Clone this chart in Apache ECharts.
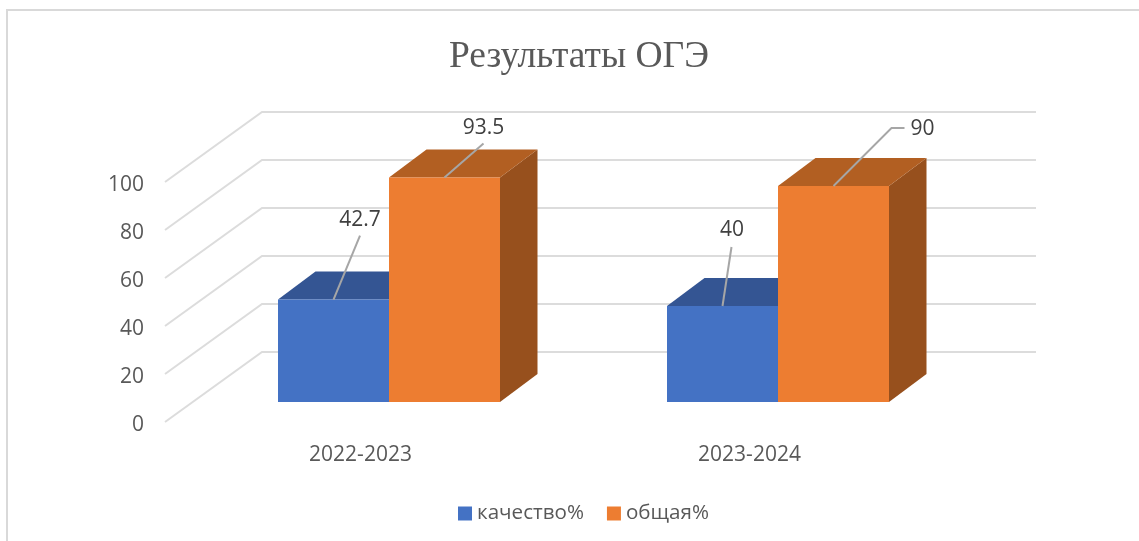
<!DOCTYPE html>
<html>
<head>
<meta charset="utf-8">
<style>
  html, body { margin: 0; padding: 0; background: #fff; }
  #main { width: 1139px; height: 541px; }
</style>
<script src="https://cdn.jsdelivr.net/npm/echarts@6/dist/echarts.min.js"></script>
</head>
<body>
<div id="main"></div>
<script>
var titleText = 'Результаты ОГЭ';
var categories = ['2022-2023', '2023-2024'];
var seriesNames = ['качество%', 'общая%'];
var quality = [42.7, 40];
var total = [93.5, 90];
var yTicks = [0, 20, 40, 60, 80, 100];

// 3d look, px
var wallDepth = [96, -70];
var barDepth = [37.5, -28];
var barLift = [28.5, -20];
var barWidth = 111;
var wallEndTrim = 4;

// where the data labels sit, relative to the middle of the bar's front top edge
var labelLayouts = {
  quality: [
    { text: [26.5, -80], line: [[0, 0], [26.5, -64]] },
    { text: [9.5, -76], line: [[0, 0], [9, -59]] }
  ],
  total: [
    { text: [39, -50], line: [[0, 0], [39, -34]] },
    { text: [89, -57], line: [[0, 0], [58, -58], [71, -58]] }
  ]
};

var chart = echarts.init(document.getElementById('main'));

function wallLine(params, api) {
  var cs = params.coordSys;
  var y = api.coord([0, api.value(1)])[1];
  var backX = cs.x + wallDepth[0];
  var backY = y + wallDepth[1];
  return {
    type: 'polyline',
    silent: true,
    shape: { points: [[cs.x - 1, y], [backX, backY], [cs.x + cs.width + wallDepth[0] - wallEndTrim, backY]] },
    style: { stroke: '#dcdcdc', lineWidth: 2, fill: null }
  };
}

function box(colors, side, layouts) {
  return function (params, api) {
    var top = api.coord([api.value(0), api.value(1)]);
    var base = api.coord([api.value(0), 0]);
    var xc = top[0] + barLift[0] + side * barWidth / 2;
    var x0 = xc - barWidth / 2;
    var x1 = xc + barWidth / 2;
    var yt = top[1] + barLift[1];
    var yb = base[1] + barLift[1];
    var dx = barDepth[0];
    var dy = barDepth[1];
    var lay = layouts[params.dataIndex];
    var linePts = lay.line.map(function (p) { return [xc + p[0], yt + p[1]]; });
    return {
      type: 'group',
      silent: true,
      children: [
        { type: 'polygon', shape: { points: [[x1, yt], [x1 + dx, yt + dy], [x1 + dx, yb + dy], [x1, yb]] }, style: { fill: colors.side } },
        { type: 'polygon', shape: { points: [[x0, yt], [x0 + dx, yt + dy], [x1 + dx, yt + dy], [x1, yt]] }, style: { fill: colors.top } },
        { type: 'rect', shape: { x: x0, y: yt, width: barWidth, height: yb - yt }, style: { fill: colors.front } },
        { type: 'polyline', z2: 20, shape: { points: linePts }, style: { stroke: '#a6a6a6', lineWidth: 2, fill: null } },
        { type: 'text', z2: 21, style: {
          text: String(api.value(1)),
          x: xc + lay.text[0], y: yt + lay.text[1],
          align: 'center', verticalAlign: 'middle',
          font: '21px "Open Sans"', fill: '#404040'
        } }
      ]
    };
  };
}

function toPoints(values) {
  return values.map(function (v, i) { return [i, v]; });
}

chart.setOption({
  animation: false,
  backgroundColor: '#fff',
  title: {
    text: titleText,
    left: 574, top: 33,
    textAlign: 'center',
    textStyle: { fontFamily: 'Liberation Serif', fontSize: 37.5, fontWeight: 'normal', color: '#595959' }
  },
  legend: {
    data: seriesNames,
    left: 453, top: 498,
    icon: 'rect',
    itemWidth: 14, itemHeight: 14, itemGap: 23,
    textStyle: { fontFamily: 'Open Sans', fontSize: 20.6, color: '#595959' },
    selectedMode: false
  },
  grid: { left: 166, top: 182, width: 778, height: 240 },
  xAxis: {
    type: 'category',
    data: categories,
    axisLine: { show: false },
    axisTick: { show: false },
    axisLabel: { margin: 23, fontFamily: 'Open Sans', fontSize: 21, color: '#595959' }
  },
  yAxis: {
    type: 'value',
    min: 0, max: 100, interval: 20,
    axisLine: { show: false },
    axisTick: { show: false },
    splitLine: { show: false },
    axisLabel: { margin: 22, lineHeight: 6, verticalAlign: 'top', fontFamily: 'Open Sans', fontSize: 21, color: '#595959' }
  },
  graphic: [
    { type: 'polyline', silent: true, shape: { points: [[7, 541], [7, 10], [1139, 10]] }, style: { stroke: '#d9d9d9', lineWidth: 2, fill: null } }
  ],
  series: [
    { type: 'custom', name: 'wall', data: yTicks.map(function (v) { return [0, v]; }), renderItem: wallLine, z: 1 },
    { type: 'custom', name: seriesNames[0], data: toPoints(quality), itemStyle: { color: '#4472c4' }, z: 2,
      renderItem: box({ front: '#4472c4', top: '#345593', side: '#2f5597' }, -1, labelLayouts.quality) },
    { type: 'custom', name: seriesNames[1], data: toPoints(total), itemStyle: { color: '#ed7d31' }, z: 3,
      renderItem: box({ front: '#ed7d31', top: '#b25f22', side: '#97501d' }, 1, labelLayouts.total) }
  ]
});
</script>
</body>
</html>
